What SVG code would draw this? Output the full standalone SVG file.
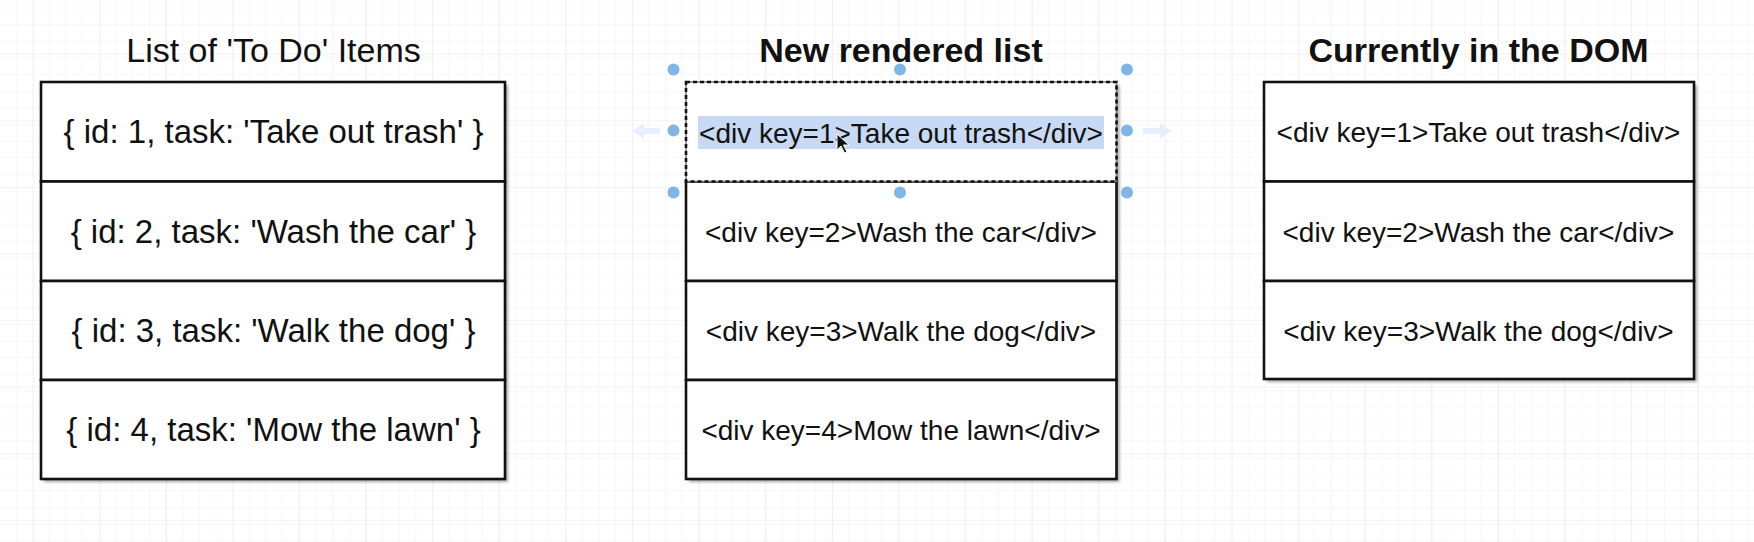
<svg xmlns="http://www.w3.org/2000/svg" width="1754" height="542" viewBox="0 0 1754 542">
  <style>
    .title { font-family: "Liberation Sans", Arial, Helvetica, sans-serif; font-size: 34px; fill: #111; text-anchor: middle; }
    .bold { font-weight: bold; }
    .obj { font-family: "Liberation Sans", Arial, Helvetica, sans-serif; font-size: 33px; fill: #111; text-anchor: middle; }
    .div { font-family: "Liberation Sans", Arial, Helvetica, sans-serif; font-size: 28px; fill: #111; text-anchor: middle; }
    .cell { fill: #ffffff; stroke: #111; stroke-width: 2.6; }
    .handle { fill: #7fb6e6; }
    .hover { fill: #e6f0fb; }
  </style>
  <defs>
    <pattern id="minor" width="16.65" height="16.65" patternUnits="userSpaceOnUse" x="16.15" y="3.75">
      <path d="M 16.65 0 L 0 0 0 16.65" fill="none" stroke="#f0f0f0" stroke-width="1"/>
    </pattern>
    <pattern id="major" width="66.6" height="66.6" patternUnits="userSpaceOnUse" x="32.8" y="53.7">
      <rect width="66.6" height="66.6" fill="url(#minor)"/>
      <path d="M 66.6 0 L 0 0 0 66.6" fill="none" stroke="#e6e6e6" stroke-width="1"/>
    </pattern>
    <filter id="shadow" x="-5%" y="-5%" width="115%" height="115%">
      <feDropShadow dx="3" dy="3" stdDeviation="1.6" flood-color="#000" flood-opacity="0.35"/>
    </filter>
  </defs>

  <rect width="1754" height="542" fill="#ffffff"/>
  <rect width="1754" height="542" fill="url(#major)"/>

  <!-- Column titles -->
  <g id="title-todo"><text class="title" x="273.5" y="62">List of 'To Do' Items</text></g>
  <g id="title-new"><text class="title bold" x="901" y="62">New rendered list</text></g>
  <g id="title-dom"><text class="title bold" x="1478.5" y="62">Currently in the DOM</text></g>

  <!-- Left list -->
  <g id="todo-list">
    <rect x="41" y="82" width="464" height="397" fill="#fff" filter="url(#shadow)"/>
    <g id="todo-1">
      <rect class="cell" x="41" y="82" width="464" height="99.5"/>
      <text class="obj" x="273.5" y="143.3">{ id: 1, task: 'Take out trash' }</text>
    </g>
    <g id="todo-2">
      <rect class="cell" x="41" y="181.5" width="464" height="99.5"/>
      <text class="obj" x="273.5" y="242.8">{ id: 2, task: 'Wash the car' }</text>
    </g>
    <g id="todo-3">
      <rect class="cell" x="41" y="281" width="464" height="99"/>
      <text class="obj" x="273.5" y="342.3">{ id: 3, task: 'Walk the dog' }</text>
    </g>
    <g id="todo-4">
      <rect class="cell" x="41" y="380" width="464" height="99"/>
      <text class="obj" x="273.5" y="441.3">{ id: 4, task: 'Mow the lawn' }</text>
    </g>
  </g>

  <!-- Middle list -->
  <g id="new-list">
    <rect x="686" y="82" width="430.5" height="397" fill="#fff" filter="url(#shadow)"/>
    <g id="new-2">
      <rect class="cell" x="686" y="181.5" width="430.5" height="99.5"/>
      <text class="div" x="901" y="241.5">&lt;div key=2&gt;Wash the car&lt;/div&gt;</text>
    </g>
    <g id="new-3">
      <rect class="cell" x="686" y="281" width="430.5" height="99"/>
      <text class="div" x="901" y="341">&lt;div key=3&gt;Walk the dog&lt;/div&gt;</text>
    </g>
    <g id="new-4">
      <rect class="cell" x="686" y="380" width="430.5" height="99"/>
      <text class="div" x="901" y="440">&lt;div key=4&gt;Mow the lawn&lt;/div&gt;</text>
    </g>
    <g id="new-1">
      <rect x="686" y="82" width="430.5" height="99.5" fill="#fff" stroke="#777" stroke-width="1.5"/>
      <rect x="686" y="82" width="430.5" height="99.5" fill="none" stroke="#111" stroke-width="2.6" stroke-dasharray="4 3"/>
      <rect x="698" y="116" width="406" height="33" fill="#c7d9f4"/>
      <text class="div" x="901" y="142.5">&lt;div key=1&gt;Take out trash&lt;/div&gt;</text>
    </g>
  </g>

  <!-- Right list -->
  <g id="dom-list">
    <rect x="1264" y="82" width="430" height="297" fill="#fff" filter="url(#shadow)"/>
    <g id="dom-1">
      <rect class="cell" x="1264" y="82" width="430" height="99.5"/>
      <text class="div" x="1478.5" y="142">&lt;div key=1&gt;Take out trash&lt;/div&gt;</text>
    </g>
    <g id="dom-2">
      <rect class="cell" x="1264" y="181.5" width="430" height="99.5"/>
      <text class="div" x="1478.5" y="241.5">&lt;div key=2&gt;Wash the car&lt;/div&gt;</text>
    </g>
    <g id="dom-3">
      <rect class="cell" x="1264" y="281" width="430" height="98"/>
      <text class="div" x="1478.5" y="340.5">&lt;div key=3&gt;Walk the dog&lt;/div&gt;</text>
    </g>
  </g>

  <g id="connectors"></g>

  <!-- Selection overlay -->
  <g id="selection">
    <polygon class="hover" points="632,131 644,123 644,128 660,128 660,134 644,134 644,139"/>
    <polygon class="hover" points="1172,131 1160,123 1160,128 1143,128 1143,134 1160,134 1160,139"/>
    <circle class="handle" cx="673.5" cy="69.5" r="6"/>
    <circle class="handle" cx="900" cy="69.5" r="6"/>
    <circle class="handle" cx="1127" cy="69.5" r="6"/>
    <circle class="handle" cx="673.5" cy="130.5" r="6"/>
    <circle class="handle" cx="1127" cy="130.5" r="6"/>
    <circle class="handle" cx="673.5" cy="192.5" r="6"/>
    <circle class="handle" cx="900" cy="192.5" r="6"/>
    <circle class="handle" cx="1127" cy="192.5" r="6"/>
    <polygon points="837,134 837,150 841,146 844.5,153 847,152 843.5,145 849,145" fill="#111" stroke="#fff" stroke-width="1"/>
  </g>
</svg>
